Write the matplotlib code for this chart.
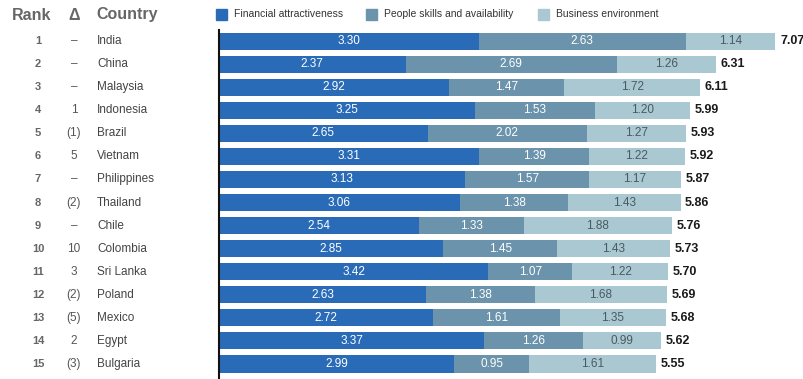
import matplotlib.pyplot as plt
import matplotlib.transforms as mtransforms
from matplotlib.patches import Rectangle

ranks = list(range(1, 16))
deltas = ['–', '–', '–', '1', '(1)', '5', '–', '(2)', '–', '10', '3', '(2)', '(5)', '2', '(3)']
countries = ['India', 'China', 'Malaysia', 'Indonesia', 'Brazil', 'Vietnam', 'Philippines',
             'Thailand', 'Chile', 'Colombia', 'Sri Lanka', 'Poland', 'Mexico', 'Egypt', 'Bulgaria']
financial = [3.30, 2.37, 2.92, 3.25, 2.65, 3.31, 3.13, 3.06, 2.54, 2.85, 3.42, 2.63, 2.72, 3.37, 2.99]
people = [2.63, 2.69, 1.47, 1.53, 2.02, 1.39, 1.57, 1.38, 1.33, 1.45, 1.07, 1.38, 1.61, 1.26, 0.95]
business = [1.14, 1.26, 1.72, 1.20, 1.27, 1.22, 1.17, 1.43, 1.88, 1.43, 1.22, 1.68, 1.35, 0.99, 1.61]
totals = [7.07, 6.31, 6.11, 5.99, 5.93, 5.92, 5.87, 5.86, 5.76, 5.73, 5.70, 5.69, 5.68, 5.62, 5.55]

series_names = ['Financial attractiveness', 'People skills and availability', 'Business environment']
colors = ['#2a6bb8', '#6b93ab', '#a9c8d1']
label_colors = ['white', 'white', '#4a5a60']

plt.rcParams['font.family'] = ['Liberation Sans', 'DejaVu Sans']

W, H = 804, 379
fig = plt.figure(figsize=(W / 100, H / 100), dpi=100)
ax = fig.add_axes([219 / W, 0, 1 - 219 / W, 1 - 30 / H])

y = list(range(len(countries)))
h = 0.74
left = [0] * len(y)
for vals, c, lc in zip([financial, people, business], colors, label_colors):
    ax.barh(y, vals, left=left, height=h, color=c, edgecolor='none')
    for yi, v, l in zip(y, vals, left):
        ax.text(l + v / 2, yi, f'{v:.2f}', ha='center', va='center', color=lc, fontsize=8.5)
    left = [a + b for a, b in zip(left, vals)]

for yi, t in zip(y, totals):
    ax.text(t + 0.06, yi, f'{t:.2f}', ha='left', va='center', fontsize=9,
            fontweight='bold', color='#1a1a1a')

ax.set_xlim(0, (W - 219) / 78.7)
ax.set_ylim(14.65, -0.48)
for s in ['top', 'right', 'bottom']:
    ax.spines[s].set_visible(False)
ax.spines['left'].set_linewidth(1.5)
ax.spines['left'].set_color('#111111')
ax.set_xticks([])
ax.set_yticks([])

# left-hand table
tr = mtransforms.blended_transform_factory(fig.transFigure, ax.transData)
gray = '#555555'
for yi, r, d, c in zip(y, ranks, deltas, countries):
    ax.text(38 / W, yi, str(r), transform=tr, ha='center', va='center',
            fontsize=8, fontweight='bold', color='#666666')
    ax.text(74 / W, yi, d, transform=tr, ha='center', va='center', fontsize=8.5, color=gray)
    ax.text(97 / W, yi, c, transform=tr, ha='left', va='center', fontsize=8.5, color='#444444')

hy = 1 - 15 / H
fig.text(12 / W, hy, 'Rank', ha='left', va='center', fontsize=11.5, fontweight='bold', color='#666666')
fig.text(74 / W, hy, 'Δ', ha='center', va='center', fontsize=11.5, fontweight='bold', color='#666666')
fig.text(96 / W, hy, 'Country', ha='left', va='center', fontsize=11.5, fontweight='bold', color='#666666')

# legend
leg_x = [216, 366, 538]
for lx, name, c in zip(leg_x, series_names, colors):
    fig.patches.append(Rectangle((lx / W, 1 - 20 / H), 11 / W, 11 / H, transform=fig.transFigure,
                                 color=c, figure=fig))
    fig.text((lx + 18) / W, 1 - 14 / H, name, ha='left', va='center', fontsize=7.5, color='#333333')

fig.savefig('out.png', dpi=100)
